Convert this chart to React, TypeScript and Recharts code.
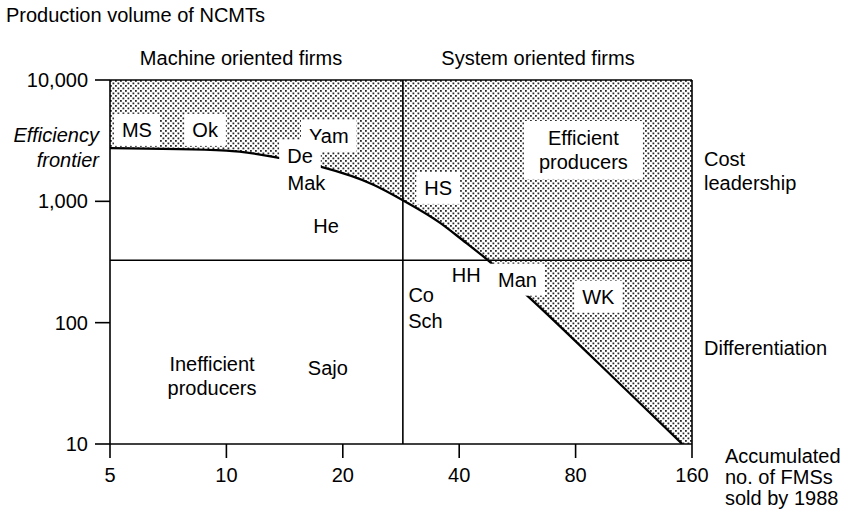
import {
  Area,
  ComposedChart,
  Line,
  ReferenceArea,
  ReferenceLine,
  Scatter,
  XAxis,
  YAxis,
} from 'recharts'

document.body.style.margin = '0'

const FONT = "'Liberation Sans', Arial, Helvetica, sans-serif"
const FS = 20

const xTicks = [5, 10, 20, 40, 80, 160]
const yTicks = [10, 100, 1000, 10000]

// efficiency frontier
const frontierX = [5, 10, 13.8, 17.5, 24, 28.6, 35.7, 40.8, 47.6, 59.3, 108, 151]
const frontierY = [2740, 2620, 2270, 1930, 1370, 1020, 665, 480, 325, 173, 28, 10]

// quadrant dividers
const strategySplitX = 28.6
const costSplitY = 327

// labels sitting in the efficient (shaded) zone
const efficientNames = ['MS', 'Ok', 'Yam', 'De', 'HS', 'Man', 'WK', 'Efficient\nproducers']
const efficientX = [5.87, 8.81, 18.4, 15.5, 35.3, 56.6, 91.6, 83.8]
const efficientY = [3880, 3880, 3460, 2370, 1290, 226, 164, 2650]

// labels in the unshaded zone
const otherNames = ['Mak', 'He', 'HH', 'Co', 'Sch', 'Sajo', 'Inefficient\nproducers']
const otherX = [16.1, 18.1, 41.7, 31.9, 32.7, 18.3, 9.18]
const otherY = [1420, 628, 248, 170, 104, 42.6, 36.3]

const X_MIN = xTicks[0]
const X_MAX = xTicks[xTicks.length - 1]
const Y_MIN = yTicks[0]
const Y_MAX = yTicks[yTicks.length - 1]

const frontier = frontierX.map((x, i) => ({ x, y: frontierY[i] }))
const band = frontier.map((p) => ({ x: p.x, band: [p.y, Y_MAX] }))
const efficient = efficientNames.map((name, i) => ({ name, x: efficientX[i], y: efficientY[i] }))
const others = otherNames.map((name, i) => ({ name, x: otherX[i], y: otherY[i] }))

let ctx: CanvasRenderingContext2D | null = null
function textWidth(s: string) {
  if (!ctx) {
    ctx = document.createElement('canvas').getContext('2d')
    if (ctx) ctx.font = `${FS}px ${FONT}`
  }
  return ctx ? ctx.measureText(s).width : s.length * FS * 0.6
}

const LINE_H = 24

function FirmLabel(props: any) {
  const { cx, cy, payload, boxed } = props
  if (cx == null || cy == null) return null
  const lines: string[] = String(payload.name).split('\n')
  const w = Math.max(...lines.map(textWidth))
  const multi = lines.length > 1
  const bw = w + (multi ? 30 : 16)
  const bh = multi ? 58 : 32
  const top = cy - ((lines.length - 1) * LINE_H) / 2
  return (
    <g>
      {boxed && <rect x={cx - bw / 2} y={cy - bh / 2} width={bw} height={bh} fill="#fff" />}
      {lines.map((l, i) => (
        <text
          key={i}
          x={cx}
          y={top + i * LINE_H + 7}
          textAnchor="middle"
          fontSize={FS}
          fontFamily={FONT}
          fill="#000"
        >
          {l}
        </text>
      ))}
    </g>
  )
}

const txt = { fontSize: FS, fontFamily: FONT, fill: '#000' }

export default function App() {
  return (
    <div style={{ position: 'relative', width: 850, height: 514, background: '#fff' }}>
      <ComposedChart width={850} height={514} margin={{ top: 80, right: 158, bottom: 30, left: 0 }}>
        <defs>
          <pattern id="stipple" width="5" height="5" patternUnits="userSpaceOnUse">
            <rect width="5" height="5" fill="#fff" />
            <rect x="0" y="0" width="1.8" height="1.8" fill="#2a2a2a" />
            <rect x="2.5" y="2.5" width="1.8" height="1.8" fill="#2a2a2a" />
          </pattern>
        </defs>
        <XAxis
          dataKey="x"
          type="number"
          scale="log"
          domain={[X_MIN, X_MAX]}
          ticks={xTicks}
          interval={0}
          allowDataOverflow
          height={40}
          tickSize={14}
          tickMargin={10}
          axisLine={{ stroke: '#000', strokeWidth: 1.6 }}
          tickLine={{ stroke: '#000', strokeWidth: 1.6 }}
          tick={txt}
        />
        <YAxis
          type="number"
          scale="log"
          domain={[Y_MIN, Y_MAX]}
          ticks={yTicks}
          interval={0}
          allowDataOverflow
          width={110}
          tickSize={15}
          tickMargin={7}
          tickFormatter={(v: number) => v.toLocaleString('en-US')}
          axisLine={{ stroke: '#000', strokeWidth: 1.6 }}
          tickLine={{ stroke: '#000', strokeWidth: 1.6 }}
          tick={txt}
        />
        <Area
          data={band}
          dataKey="band"
          type="monotone"
          stroke="none"
          fill="url(#stipple)"
          fillOpacity={1}
          isAnimationActive={false}
        />
        <ReferenceArea
          x1={frontierX[frontierX.length - 1]}
          x2={X_MAX}
          y1={Y_MIN}
          y2={Y_MAX}
          fill="url(#stipple)"
          fillOpacity={1}
          stroke="none"
        />
        <ReferenceLine x={strategySplitX} stroke="#000" strokeWidth={1.6} />
        <ReferenceLine y={costSplitY} stroke="#000" strokeWidth={1.4} />
        <ReferenceLine y={Y_MAX} stroke="#000" strokeWidth={1.6} />
        <ReferenceLine x={X_MAX} stroke="#000" strokeWidth={1.6} />
        <Line
          data={frontier}
          dataKey="y"
          type="monotone"
          stroke="#000"
          strokeWidth={2.3}
          dot={false}
          isAnimationActive={false}
        />
        <Scatter
          data={efficient}
          dataKey="y"
          shape={(p: any) => <FirmLabel {...p} boxed />}
          isAnimationActive={false}
        />
        <Scatter
          data={others}
          dataKey="y"
          shape={(p: any) => <FirmLabel {...p} />}
          isAnimationActive={false}
        />
      </ComposedChart>
      <svg
        width={850}
        height={514}
        style={{ position: 'absolute', left: 0, top: 0, pointerEvents: 'none' }}
      >
        <g fontFamily={FONT} fontSize={FS} fill="#000">
          <text x={6} y={22}>Production volume of NCMTs</text>
          <text x={241} y={65} textAnchor="middle">Machine oriented firms</text>
          <text x={538} y={65} textAnchor="middle">System oriented firms</text>
          <text x={99} y={142} textAnchor="end" fontStyle="italic">Efficiency</text>
          <text x={99} y={167} textAnchor="end" fontStyle="italic">frontier</text>
          <text x={704} y={166}>Cost</text>
          <text x={704} y={190}>leadership</text>
          <text x={704} y={355}>Differentiation</text>
          <text x={725} y={463}>Accumulated</text>
          <text x={725} y={484}>no. of FMSs</text>
          <text x={725} y={505}>sold by 1988</text>
        </g>
      </svg>
    </div>
  )
}
